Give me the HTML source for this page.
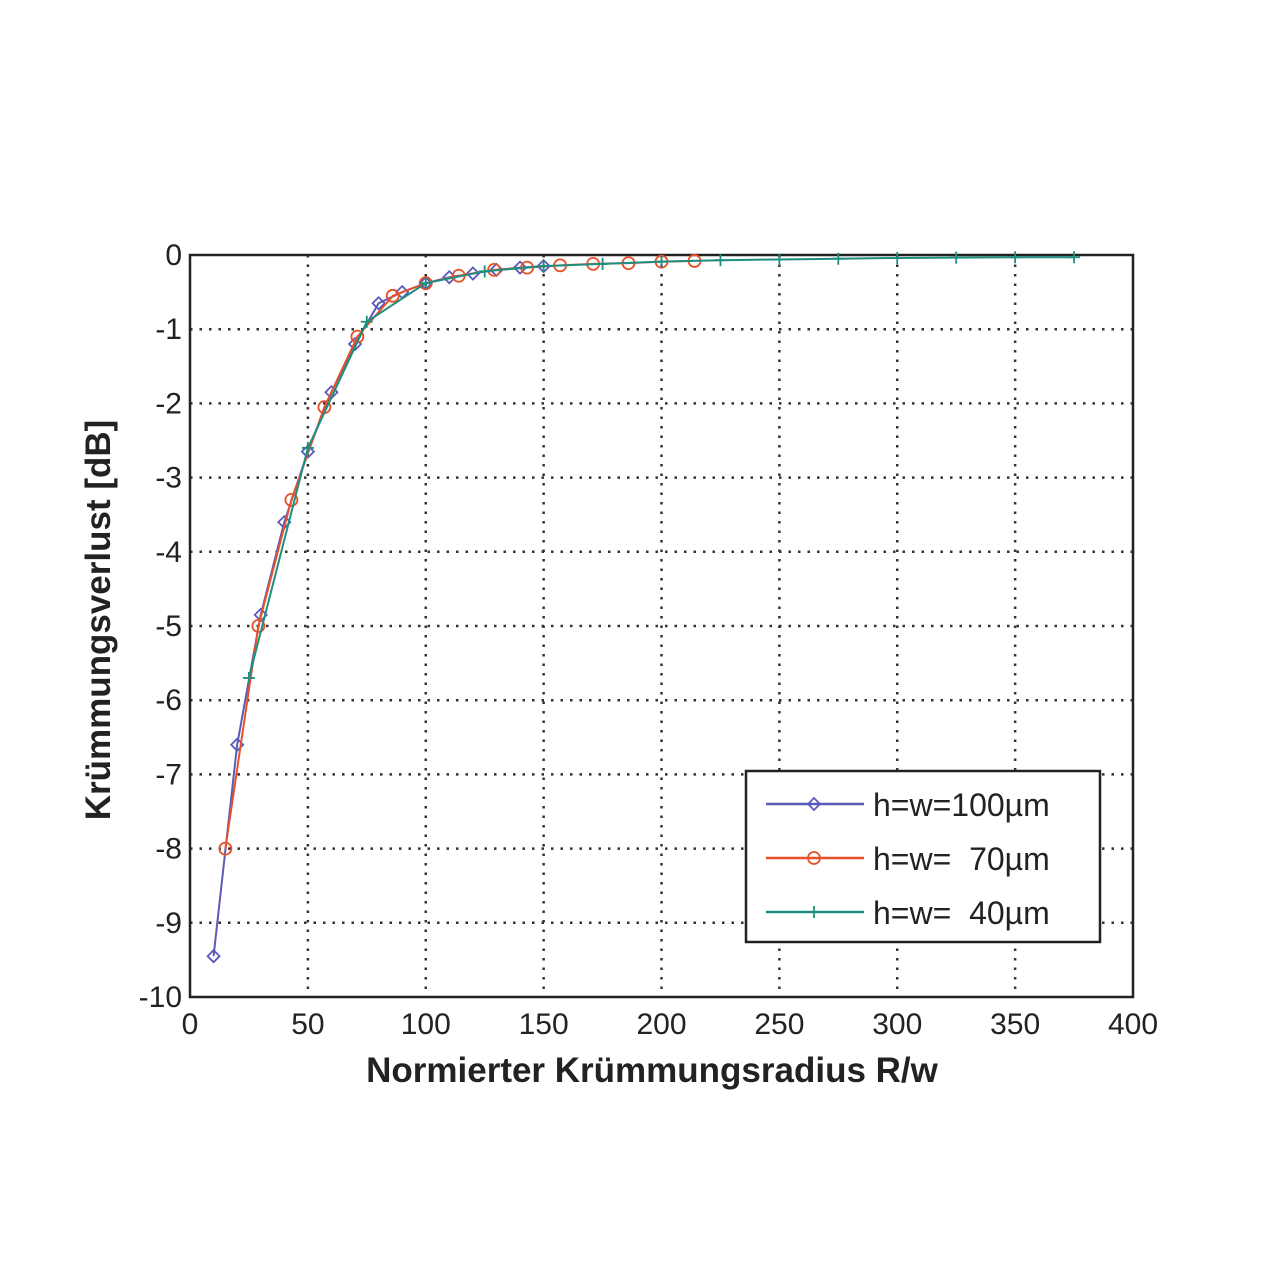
<!DOCTYPE html>
<html><head><meta charset="utf-8"><style>
html,body{margin:0;padding:0;background:#fff;}
svg{display:block;font-family:"Liberation Sans",Arial,sans-serif;}
</style></head><body>
<svg id="chart" width="1280" height="1280" viewBox="0 0 1280 1280">
<g id="grid"></g>
<g id="axes"></g>
<g id="series"></g>
<text x="652" y="1082" font-size="35" font-weight="bold" text-anchor="middle" fill="#222">Normierter Krümmungsradius R/w</text>
<text transform="translate(110,620) rotate(-90)" font-size="35" font-weight="bold" text-anchor="middle" fill="#222">Krümmungsverlust [dB]</text>
<g id="legend"></g>
</svg>
<script>
const xTicks = [0,50,100,150,200,250,300,350,400];
const yTicks = [0,-1,-2,-3,-4,-5,-6,-7,-8,-9,-10];
const seriesNames = ["h=w=100µm","h=w=  70µm","h=w=  40µm"];
const x100 = [10,20,30,40,50,60,70,80,90,100,110,120,130,140,150];
const y100 = [-9.45,-6.6,-4.85,-3.6,-2.65,-1.85,-1.2,-0.65,-0.5,-0.38,-0.3,-0.25,-0.2,-0.17,-0.15];
const x70 = [15,29,43,57,71,86,100,114,129,143,157,171,186,200,214];
const y70 = [-8,-5.0,-3.3,-2.05,-1.1,-0.55,-0.38,-0.28,-0.2,-0.17,-0.14,-0.12,-0.11,-0.09,-0.08];
const x40 = [25,50,75,100,125,150,175,200,225,250,275,300,325,350,375];
const y40 = [-5.7,-2.6,-0.9,-0.38,-0.22,-0.15,-0.12,-0.09,-0.07,-0.06,-0.05,-0.04,-0.035,-0.03,-0.03];

const L=190,R=1133,T=255,B=997;
const sx=v=>L+(v-0)/(400-0)*(R-L);
const sy=v=>T+(0-v)/(0-(-10))*(B-T);
const NS="http://www.w3.org/2000/svg";
function mk(tag,attrs,parent){const e=document.createElementNS(NS,tag);for(const k in attrs)e.setAttribute(k,attrs[k]);parent.appendChild(e);return e;}
const grid=document.getElementById('grid'),axes=document.getElementById('axes'),ser=document.getElementById('series'),leg=document.getElementById('legend');
mk('rect',{x:L,y:T,width:R-L,height:B-T,fill:'#fff'},grid);
xTicks.forEach(t=>{
  const x=sx(t);
  if(t>0&&t<400){const g=mk('line',{x1:x,y1:T,x2:x,y2:B,stroke:'#333','stroke-width':2.5,'stroke-dasharray':'2.5 7'},grid);
  
  }
  const tx=mk('text',{x:x,y:B+37,'font-size':30,'text-anchor':'middle',fill:'#222'},axes);
  tx.textContent=t;
  
  
});
yTicks.forEach(t=>{
  const y=sy(t);
  if(t<0&&t>-10){const g=mk('line',{x1:L,y1:y,x2:R,y2:y,stroke:'#333','stroke-width':2.5,'stroke-dasharray':'2.5 7'},grid);
  
  }
  const tx=mk('text',{x:L-8,y:y+10,'font-size':30,'text-anchor':'end',fill:'#222'},axes);
  tx.textContent=t;
  
  
});
const fr=mk('rect',{x:L,y:T,width:R-L,height:B-T,fill:'none',stroke:'#222','stroke-width':2.5},axes);



function marker(kind,x,y,c,p){
  let m;
  if(kind==='d') m=mk('polygon',{points:`${x},${y-6} ${x+6},${y} ${x},${y+6} ${x-6},${y}`,fill:'none',stroke:c,'stroke-width':1.8},p);
  else if(kind==='o') m=mk('circle',{cx:x,cy:y,r:6,fill:'none',stroke:c,'stroke-width':1.8},p);
  else m=mk('path',{d:`M${x-6},${y}H${x+6}M${x},${y-6}V${y+6}`,stroke:c,'stroke-width':1.8},p);
  return m;
}
const defs=[[x100,y100,'#5a5ab8','d'],[x70,y70,'#e8502a','o'],[x40,y40,'#1d8f80','+']];
defs.forEach(([xs,ys,c,k],i)=>{
  const g=mk('g',{},ser);
  
  
  const pl=mk('polyline',{points:xs.map((v,j)=>sx(v)+','+sy(ys[j])).join(' '),fill:'none',stroke:c,'stroke-width':2},g);
  
  
  xs.forEach((v,j)=>{const m=marker(k,sx(v),sy(ys[j]),c,g);
    
    });
});
// legend
const lb=mk('rect',{x:746,y:771,width:354,height:171,fill:'#fff',stroke:'#222','stroke-width':2.5},leg);


defs.forEach(([xs,ys,c,k],i)=>{
  const y=804+i*54;
  const g=mk('g',{},leg);
  
  
  mk('line',{x1:766,y1:y,x2:864,y2:y,stroke:c,'stroke-width':2.5},g);
  marker(k,814,y,c,g);
  const t=mk('text',{x:873,y:y+12,'font-size':32,fill:'#222','xml:space':'preserve'},g);
  t.setAttribute('style','white-space:pre');
  t.textContent=seriesNames[i];
});
</script>
</body></html>
